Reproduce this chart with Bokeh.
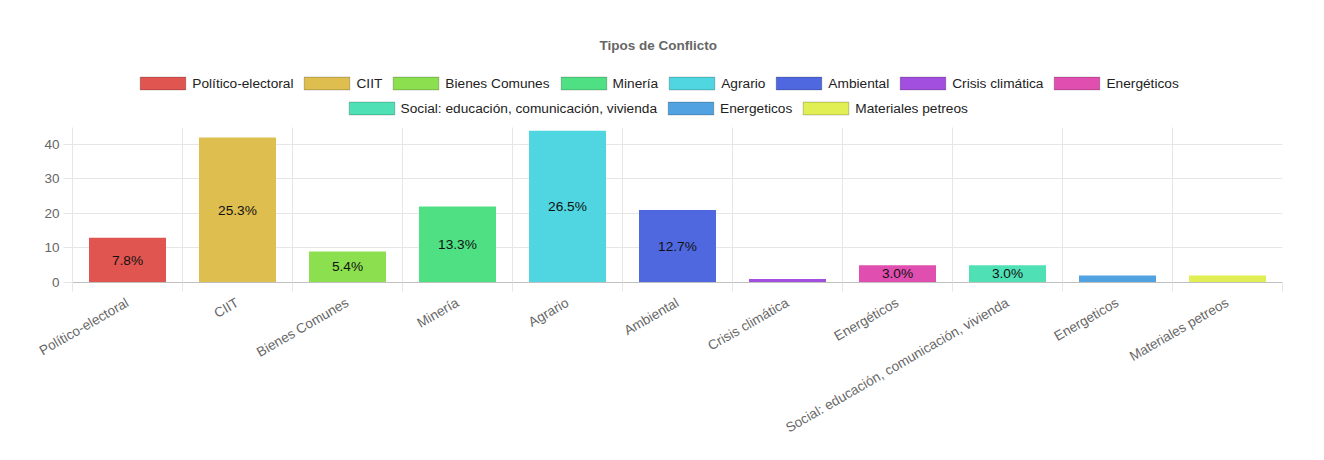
import math
from bokeh.plotting import figure
from bokeh.models import ColumnDataSource, Range1d, FixedTicker, Legend, LegendItem
from bokeh.core.properties import value
from bokeh.embed import file_html
from bokeh.resources import INLINE

title_text = "Tipos de Conflicto"
categories = ["Político-electoral", "CIIT", "Bienes Comunes", "Minería", "Agrario",
              "Ambiental", "Crisis climática", "Energéticos",
              "Social: educación, comunicación, vivienda", "Energeticos",
              "Materiales petreos"]
counts = [13, 42, 9, 22, 44, 21, 1, 5, 5, 2, 2]
colors = ["#e05550", "#dfbe50", "#8ce04f", "#50e084", "#50d6e0", "#5068df",
          "#a24fe0", "#e04fb0", "#50e0b5", "#50a3e0", "#e1ef55"]
y_ticks = [0, 10, 20, 30, 40]
y_max = 45
legend_row1 = 8

FONT = "Liberation Sans"
GRID = "#e6e6e6"

n = len(categories)
total = sum(counts)
pct_labels = []
for c in counts:
    pct = c / total * 100
    pct_labels.append(f"{pct:.1f}%" if pct >= 2 else "")

src = ColumnDataSource(dict(
    x=list(range(n)),
    counts=counts,
    mid=[c / 2 for c in counts],
    color=colors,
    label=pct_labels,
    name=categories,
))

# layout (pixels): plot area 72..1282 x 127..283 ; legend rows live above it
frame_top, axis_top, baseline = 66, 127, 283
y_end = y_max * (baseline - frame_top) / (baseline - axis_top)

p = figure(width=1308, height=444, output_backend="svg", toolbar_location=None,
           x_range=Range1d(-0.5, n - 0.5), y_range=Range1d(0, y_end),
           min_border_left=72, min_border_right=26, min_border_top=frame_top,
           min_border_bottom=444 - baseline)
p.outline_line_color = None
p.background_fill_color = "white"

p.title.text = title_text
p.title.align = "left"
p.title.offset = 527
p.title.standoff = 27
p.title.text_font = FONT
p.title.text_font_size = "13.5px"
p.title.text_font_style = "bold"
p.title.text_color = "#666666"

# bars (no border)
bars = p.vbar(x="x", top="counts", width=0.7, source=src, fill_color="color",
              line_color=None)
# legend swatches (zero-height, hidden under the baseline) with a thin border
swatch = p.vbar(x="x", top=0, bottom=0, width=0.7, source=src, fill_color="color",
                line_color="#000000", line_alpha=0.22, line_width=1)

p.text(x="x", y="mid", text="label", source=src, text_align="center",
       text_baseline="middle", text_font=value(FONT), text_font_size="13.7px",
       text_color="#111111")

# x axis
xa = p.xaxis[0]
xa.ticker = FixedTicker(ticks=list(range(n)), minor_ticks=[i - 0.5 for i in range(n + 1)])
xa.major_label_overrides = {i: c for i, c in enumerate(categories)}
xa.major_tick_line_color = None
xa.major_tick_out = 0
xa.major_tick_in = 0
xa.minor_tick_line_color = GRID
xa.minor_tick_out = 9
xa.minor_tick_in = 0
xa.axis_line_color = "#bfbfbf"
xa.major_label_orientation = math.pi / 6
xa.major_label_standoff = 10
xa.major_label_text_font = FONT
xa.major_label_text_font_size = "13.6px"
xa.major_label_text_color = "#666666"

p.xgrid.ticker = FixedTicker(ticks=[i - 0.5 for i in range(n + 1)])
p.xgrid.grid_line_color = GRID
p.xgrid.cross_bounds = (0, y_max)

# y axis
ya = p.yaxis[0]
ya.ticker = FixedTicker(ticks=y_ticks)
ya.bounds = (0, y_max)
ya.major_tick_out = 9
ya.major_tick_in = 0
ya.major_tick_line_color = GRID
ya.minor_tick_line_color = None
ya.axis_line_color = GRID
ya.major_label_standoff = 4
ya.major_label_text_font = FONT
ya.major_label_text_font_size = "13.5px"
ya.major_label_text_color = "#666666"
p.ygrid.ticker = FixedTicker(ticks=y_ticks)
p.ygrid.grid_line_color = GRID


def make_legend(idx, loc):
    items = [LegendItem(label=categories[i], renderers=[swatch], index=i) for i in idx]
    leg = Legend(items=items, location=loc, orientation="horizontal",
                 glyph_width=57, glyph_height=16, label_standoff=1, spacing=5,
                 padding=0, margin=0, label_height=16,
                 label_text_font=FONT, label_text_font_size="13.7px",
                 label_text_color="#222222",
                 background_fill_alpha=0, border_line_color=None)
    leg.click_policy = "none"
    return leg


p.add_layout(make_legend(range(0, legend_row1), (62.3, baseline - 92)), "center")
p.add_layout(make_legend(range(legend_row1, n), (270.6, baseline - 117)), "center")

open("out.html", "w").write(file_html(p, INLINE))
